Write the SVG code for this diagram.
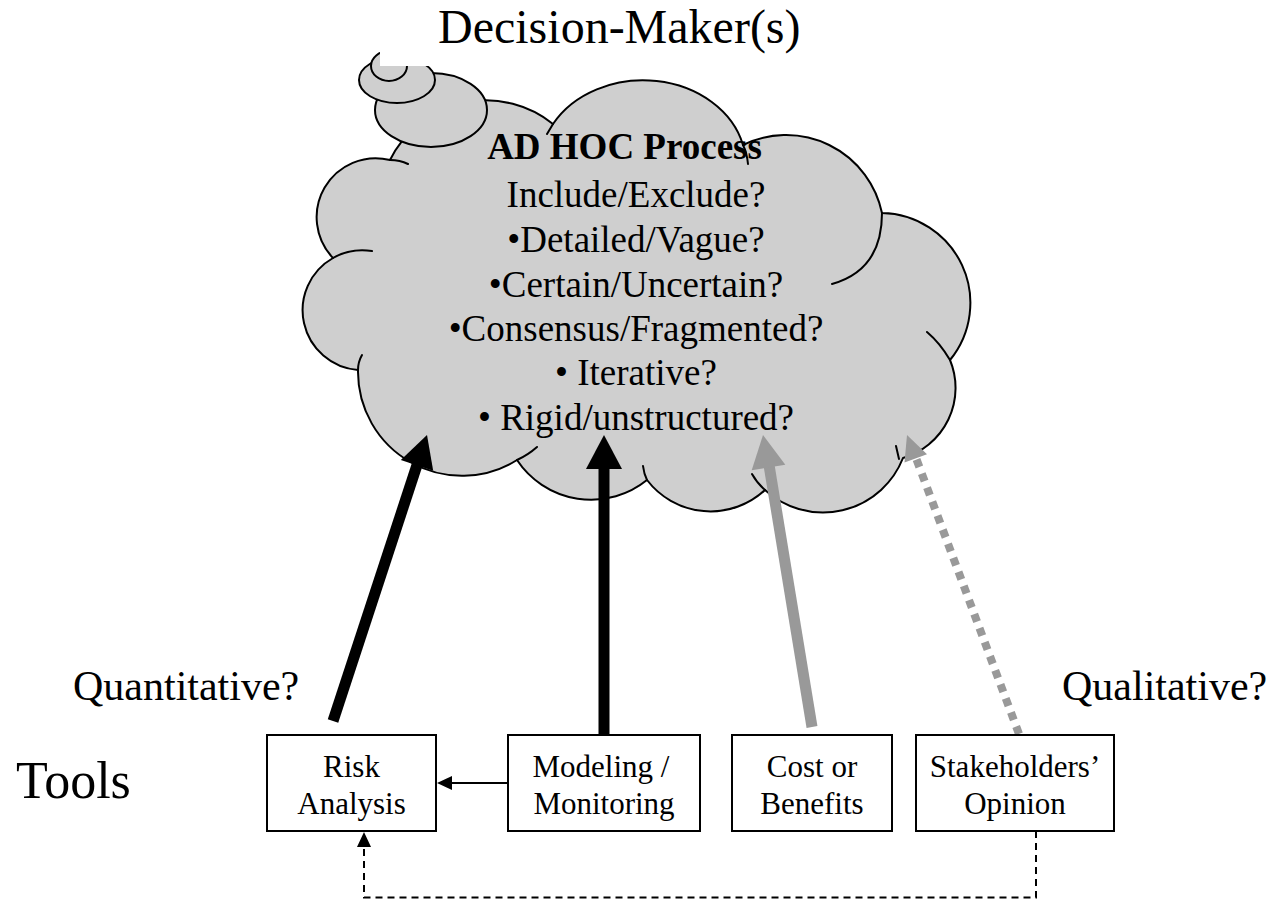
<svg xmlns="http://www.w3.org/2000/svg" width="1272" height="899" viewBox="0 0 1272 899">
  <defs>
    <style>
      .serif { font-family: "Liberation Serif", "Times New Roman", serif; fill: #000; }
      .cloud { fill: #cfcfcf; stroke: #000; stroke-width: 2; stroke-linejoin: round; }
      .seam { fill: none; stroke: #000; stroke-width: 2; stroke-linecap: round; }
      .box { fill: #fff; stroke: #000; stroke-width: 2; }
      .boxtext { font-size: 31px; text-anchor: middle; }
      .cloudtext { font-size: 37px; text-anchor: middle; }
      .label { font-size: 42px; }
      .shaft-black { stroke: #000; stroke-width: 11; fill: none; }
      .shaft-gray { stroke: #999; stroke-width: 11; fill: none; }
      .shaft-dotted { stroke: #999; stroke-width: 8; fill: none; stroke-dasharray: 8 7; }
      .thin { stroke: #000; stroke-width: 2; fill: none; }
      .thin-dashed { stroke: #000; stroke-width: 2; fill: none; stroke-dasharray: 7 5; }
      .head-black { fill: #000; }
      .head-gray { fill: #999; }
    </style>
  </defs>

  <rect width="1272" height="899" fill="#fff"/>

  <!-- thought cloud with its trailing bubbles -->
  <g id="cloud">
    <path class="cloud" d="M 390 160
      A 107 107 0 0 1 553 124
      A 103 85 0 0 1 743 145
      A 98 98 0 0 1 882 213
      A 90 90 0 0 1 950 360
      A 73 73 0 0 1 903 458
      A 86 86 0 0 1 765 490
      A 80 80 0 0 1 647 480
      A 89 89 0 0 1 517 460
      A 104 104 0 0 1 358 370
      A 60 60 0 0 1 333 258
      A 59 59 0 0 1 390 160 Z"/>
    <path class="seam" d="M 390 160 Q 400 160 408 164
      M 333 258 Q 350 248 372 251
      M 358 370 Q 358 362 362 355
      M 517 460 Q 528 455 537 447
      M 647 480 Q 644 474 643 466
      M 765 490 Q 757 483 752 474
      M 899 459 L 896 446
      M 950 360 Q 940 343 927 332
      M 882 213 Q 882 270 832 284
      M 743 145 Q 747 153 748 164
      M 553 124 L 547 134"/>
    <ellipse class="cloud" cx="431" cy="110" rx="56" ry="37"/>
    <ellipse class="cloud" cx="397" cy="80" rx="38" ry="23"/>
    <ellipse class="cloud" cx="389" cy="66" rx="18" ry="15"/>
    <text class="serif cloudtext" x="624.5" y="159" font-weight="bold">AD HOC Process</text>
    <text class="serif cloudtext" x="636" y="207">Include/Exclude?</text>
    <text class="serif cloudtext" x="636" y="252">•Detailed/Vague?</text>
    <text class="serif cloudtext" x="636" y="297">•Certain/Uncertain?</text>
    <text class="serif cloudtext" x="636" y="341">•Consensus/Fragmented?</text>
    <text class="serif cloudtext" x="636" y="385">• Iterative?</text>
    <text class="serif cloudtext" x="636" y="430">• Rigid/unstructured?</text>
  </g>

  <!-- heading, on an opaque text box -->
  <g id="title">
    <rect x="380" y="0" width="490" height="66" fill="#fff"/>
    <text class="serif" x="438" y="43" font-size="48">Decision-Maker(s)</text>
  </g>

  <!-- connectors -->
  <g id="connectors">
    <g id="risk-to-cloud">
      <line class="shaft-black" x1="333" y1="721" x2="418" y2="462"/>
      <polygon class="head-black" points="427,435 400.8,460.1 433.2,470.7"/>
    </g>
    <g id="modeling-to-cloud">
      <line class="shaft-black" x1="604" y1="735" x2="604" y2="466"/>
      <polygon class="head-black" points="604,435 586,469 622,469"/>
    </g>
    <g id="cost-to-cloud">
      <line class="shaft-gray" x1="812" y1="727" x2="769" y2="465"/>
      <polygon class="head-gray" points="763,435 751.7,470.3 785.3,464.7"/>
    </g>
    <g id="stakeholders-to-cloud">
      <line class="shaft-dotted" x1="1019" y1="734" x2="916" y2="458"/>
      <polygon class="head-gray" points="907,435 904.5,462.6 927,454.2"/>
    </g>
    <g id="modeling-to-risk">
      <line class="thin" x1="508" y1="783" x2="450" y2="783"/>
      <polygon class="head-black" points="437,783 452,776 452,790"/>
    </g>
    <g id="stakeholders-to-risk">
      <path class="thin-dashed" d="M 1036 831 V 897.5 H 364 V 846"/>
      <polygon class="head-black" points="364,832 357,847 371,847"/>
    </g>
  </g>

  <!-- tool boxes -->
  <g id="risk-analysis">
    <rect class="box" x="267" y="735" width="169" height="96"/>
    <text class="serif boxtext" x="351.5" y="777">Risk</text>
    <text class="serif boxtext" x="351.5" y="814">Analysis</text>
  </g>
  <g id="modeling-monitoring">
    <rect class="box" x="508" y="735" width="192" height="96"/>
    <text class="serif boxtext" x="601" y="777">Modeling /</text>
    <text class="serif boxtext" x="604" y="814">Monitoring</text>
  </g>
  <g id="cost-benefits">
    <rect class="box" x="732" y="735" width="160" height="96"/>
    <text class="serif boxtext" x="812" y="777">Cost or</text>
    <text class="serif boxtext" x="812" y="814">Benefits</text>
  </g>
  <g id="stakeholders-opinion">
    <rect class="box" x="916" y="735" width="198" height="96"/>
    <text class="serif boxtext" x="1015" y="777">Stakeholders’</text>
    <text class="serif boxtext" x="1015" y="814">Opinion</text>
  </g>

  <!-- side labels -->
  <g id="labels">
    <text class="serif label" x="73" y="700">Quantitative?</text>
    <text class="serif label" x="1062" y="700">Qualitative?</text>
    <text class="serif" x="16" y="798" font-size="52">Tools</text>
  </g>
</svg>
